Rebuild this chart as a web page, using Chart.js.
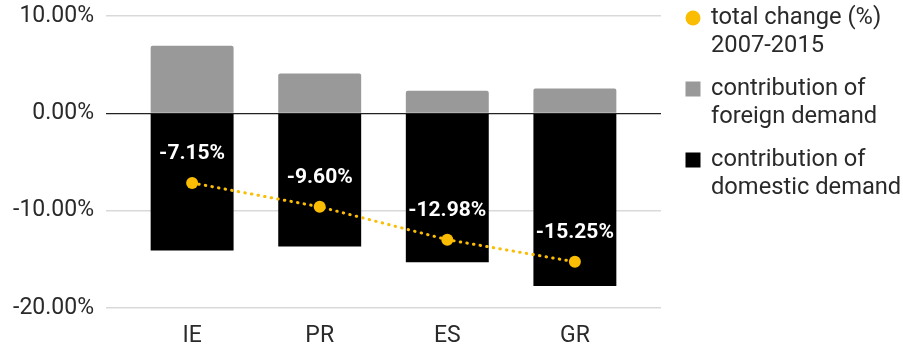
<!DOCTYPE html>
<html>
<head>
<meta charset="utf-8">
<script src="https://cdn.jsdelivr.net/npm/chart.js@4.4.1/dist/chart.umd.min.js"></script>
<style>
  html, body { margin: 0; padding: 0; background: #ffffff; }
  #wrap { width: 903px; height: 349px; position: relative; }
</style>
</head>
<body>
<div id="wrap"><canvas id="chart"></canvas></div>
<script>
// Countries on the category axis
const categories = ['IE', 'PR', 'ES', 'GR'];
// Contribution of foreign demand (%)
const foreignDemand = [6.95, 4.08, 2.33, 2.55];
// Contribution of domestic demand (%)
const domesticDemand = [-14.10, -13.68, -15.31, -17.75];
// Total change 2007-2015 (%)
const totalChange = [-7.15, -9.60, -12.98, -15.25];
// Value-axis ticks
const yTicks = [-20, -10, 0, 10];

const legendItems = [
  { lines: ['total change (%)', '2007-2015'], color: '#fbbc04', shape: 'circle' },
  { lines: ['contribution of', 'foreign demand'], color: '#999999', shape: 'square' },
  { lines: ['contribution of', 'domestic demand'], color: '#000000', shape: 'square' }
];

const FONT = 'Roboto, "Noto Sans", sans-serif';
const TEXT = '#2a2a2a';
const X_MIN = -0.675, X_MAX = 3.675;

const pointLabels = {
  id: 'pointLabels',
  afterDatasetsDraw(chart) {
    const meta = chart.getDatasetMeta(2);
    const ctx = chart.ctx;
    ctx.save();
    ctx.font = 'bold 21px ' + FONT;
    ctx.fillStyle = '#ffffff';
    ctx.textAlign = 'center';
    ctx.textBaseline = 'middle';
    meta.data.forEach((pt, i) => {
      ctx.fillText(totalChange[i].toFixed(2) + '%', pt.x, pt.y - 29);
    });
    ctx.restore();
  }
};

const sideLegend = {
  id: 'sideLegend',
  afterDraw(chart) {
    const ctx = chart.ctx;
    ctx.save();
    ctx.font = '23.7px ' + FONT;
    ctx.textBaseline = 'middle';
    ctx.textAlign = 'left';
    const markX = 693, textX = 711, startY = 18, itemGap = 71, lineGap = 28.5;
    legendItems.forEach((item, k) => {
      const y0 = startY + k * itemGap;
      ctx.fillStyle = item.color;
      if (item.shape === 'circle') {
        ctx.beginPath();
        ctx.arc(markX, y0, 7.5, 0, Math.PI * 2);
        ctx.fill();
      } else {
        ctx.fillRect(markX - 7.5, y0 - 7.5, 15, 15);
      }
      ctx.fillStyle = TEXT;
      item.lines.forEach((ln, j) => ctx.fillText(ln, textX, y0 + j * lineGap));
    });
    ctx.restore();
  }
};

new Chart(document.getElementById('chart'), {
  data: {
    datasets: [
      {
        type: 'bar',
        label: 'contribution of foreign demand',
        data: foreignDemand.map((v, i) => ({ x: i, y: v })),
        backgroundColor: '#999999',
        borderRadius: { topLeft: 2, topRight: 2, bottomLeft: 0, bottomRight: 0 },
        borderSkipped: 'bottom',
        categoryPercentage: 1,
        barPercentage: 0.65,
        stack: 'bars',
        order: 2
      },
      {
        type: 'bar',
        label: 'contribution of domestic demand',
        data: domesticDemand.map((v, i) => ({ x: i, y: v })),
        backgroundColor: '#000000',
        categoryPercentage: 1,
        barPercentage: 0.65,
        stack: 'bars',
        order: 2
      },
      {
        type: 'line',
        label: 'total change (%) 2007-2015',
        data: totalChange.map((v, i) => ({ x: i, y: v })),
        borderColor: '#fbbc04',
        backgroundColor: '#fbbc04',
        borderWidth: 3,
        borderCapStyle: 'round',
        borderDash: [0.5, 6.2],
        pointRadius: 6,
        pointBorderWidth: 0,
        pointBackgroundColor: '#fbbc04',
        stack: 'total',
        fill: false,
        order: 0
      }
    ]
  },
  options: {
    responsive: true,
    maintainAspectRatio: false,
    animation: false,
    layout: { padding: { top: 16, right: 242, bottom: 0, left: 0 } },
    plugins: { legend: { display: false }, tooltip: { enabled: false } },
    scales: {
      x: {
        type: 'linear',
        bounds: 'data',
        offset: false,
        stacked: true,
        min: X_MIN,
        max: X_MAX,
        afterFit: s => { s.height = 41; },
        afterBuildTicks: s => {
          s.ticks = categories.map((c, i) => ({ value: i }));
          s.min = X_MIN;
          s.max = X_MAX;
        },
        ticks: {
          stepSize: 1,
          autoSkip: false,
          includeBounds: false,
          maxRotation: 0,
          padding: 14,
          color: TEXT,
          font: { family: FONT, size: 23 },
          callback: v => categories[v] ?? ''
        },
        grid: { display: false, drawTicks: false },
        border: { display: false }
      },
      y: {
        stacked: true,
        min: -20,
        max: 10,
        afterFit: s => { s.width = 106; },
        afterBuildTicks: s => { s.ticks = yTicks.map(v => ({ value: v })); },
        ticks: {
          padding: 0,
          color: TEXT,
          font: { family: FONT, size: 23 },
          callback: v => v.toFixed(2) + '%'
        },
        grid: {
          drawTicks: true,
          tickLength: 12,
          tickColor: 'rgba(0,0,0,0)',
          color: c => (c.tick && c.tick.value === 0) ? '#222222' : '#d9d9d9',
          lineWidth: c => (c.tick && c.tick.value === 0) ? 1.2 : 1.5
        },
        border: { display: false }
      }
    }
  },
  plugins: [pointLabels, sideLegend]
});
</script>
</body>
</html>
